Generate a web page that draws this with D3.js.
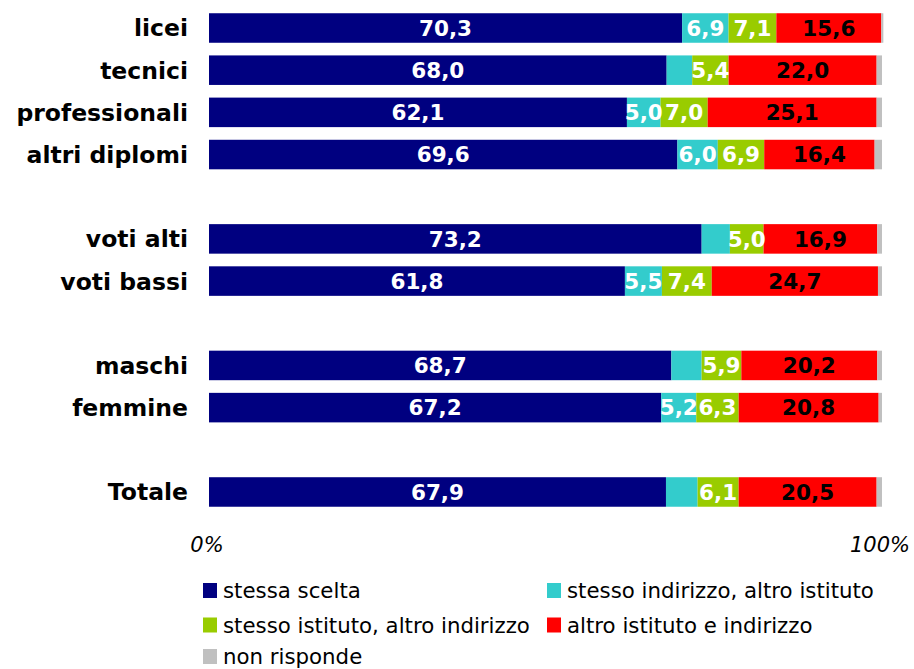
<!DOCTYPE html>
<html>
<head>
<meta charset="utf-8">
<script src="https://cdn.jsdelivr.net/npm/d3@7"></script>
<style>
  body { margin: 0; background: #fff; }
  svg { display: block; }
</style>
</head>
<body>
<svg id="chart" width="914" height="669"></svg>
<script>
// categories, with empty slots for the gaps between groups
const categories = ["licei", "tecnici", "professionali", "altri diplomi", "_g1",
                    "voti alti", "voti bassi", "_g2", "maschi", "femmine", "_g3", "Totale"];
const rows = ["licei", "tecnici", "professionali", "altri diplomi",
              "voti alti", "voti bassi", "maschi", "femmine", "Totale"];

const seriesNames = ["stessa scelta", "stesso indirizzo, altro istituto",
                     "stesso istituto, altro indirizzo", "altro istituto e indirizzo", "non risponde"];

const stessaScelta     = [70.3, 68.0, 62.1, 69.6, 73.2, 61.8, 68.7, 67.2, 67.9];
const stessoIndirizzo  = [6.9, 3.8, 5.0, 6.0, 4.2, 5.5, 4.5, 5.2, 4.7];
const stessoIstituto   = [7.1, 5.4, 7.0, 6.9, 5.0, 7.4, 5.9, 6.3, 6.1];
const altroIstituto    = [15.6, 22.0, 25.1, 16.4, 16.9, 24.7, 20.2, 20.8, 20.5];
const nonRisponde      = [0.3, 0.8, 0.8, 1.1, 0.7, 0.6, 0.7, 0.5, 0.8];

const axisTicks = [0, 100];

const colors = ["#000080", "#33cccc", "#99cc00", "#ff0000", "#c0c0c0"];
const labelColors = ["#fff", "#fff", "#fff", "#000", "#000"];

const table = rows.map((r, i) => ({
  cat: r,
  s0: stessaScelta[i], s1: stessoIndirizzo[i], s2: stessoIstituto[i],
  s3: altroIstituto[i], s4: nonRisponde[i]
}));
const keys = ["s0", "s1", "s2", "s3", "s4"];

const svg = d3.select("#chart");

const x = d3.scaleLinear().domain([0, 100]).range([209, 882]);
const step = 42.18;
const y = d3.scaleBand()
  .domain(categories)
  .range([28 - step / 2, 28 - step / 2 + step * categories.length])
  .paddingInner(0.3)
  .paddingOuter(0.15);

const stacked = d3.stack().keys(keys)(table);

const layers = svg.selectAll("g.layer").data(stacked).enter()
  .append("g").attr("class", "layer")
  .attr("fill", (d, i) => colors[i]);

layers.selectAll("rect").data(d => d).enter().append("rect")
  .attr("x", d => x(d[0]))
  .attr("y", d => y(d.data.cat))
  .attr("width", d => x(d[1]) - x(d[0]))
  .attr("height", y.bandwidth());

// value labels, only where the slice is 5 or more
stacked.forEach((layer, li) => {
  svg.append("g")
    .selectAll("text").data(layer.filter(d => d.data[keys[li]] >= 5)).enter()
    .append("text")
    .attr("x", d => x((d[0] + d[1]) / 2))
    .attr("y", d => y(d.data.cat) + y.bandwidth() / 2)
    .attr("dy", "0.36em")
    .attr("text-anchor", "middle")
    .attr("font-family", "DejaVu Sans, Verdana, sans-serif")
    .attr("font-weight", "bold")
    .attr("font-size", 21.5)
    .attr("fill", labelColors[li])
    .text(d => d.data[keys[li]].toFixed(1).replace(".", ","));
});

// category labels
svg.append("g").selectAll("text").data(rows).enter()
  .append("text")
  .attr("x", 188)
  .attr("y", d => y(d) + y.bandwidth() / 2)
  .attr("dy", "0.36em")
  .attr("text-anchor", "end")
  .attr("font-family", "DejaVu Sans, Verdana, sans-serif")
  .attr("font-weight", "bold")
  .attr("font-size", 23.5)
  .attr("fill", "#000")
  .text(d => d);

// axis ends
svg.append("g").selectAll("text").data(axisTicks).enter()
  .append("text")
  .attr("x", d => x(d) - 2)
  .attr("y", 552)
  .attr("text-anchor", "middle")
  .attr("font-family", "DejaVu Sans, Verdana, sans-serif")
  .attr("font-style", "italic")
  .attr("font-size", 21)
  .text(d => d + "%");

// legend
const legendPos = [[203, 590.5], [547, 590.5], [203, 625], [547, 625], [203, 656.5]];
const legend = svg.append("g").selectAll("g").data(seriesNames).enter()
  .append("g")
  .attr("transform", (d, i) => `translate(${legendPos[i][0]},${legendPos[i][1]})`);
legend.append("rect")
  .attr("x", 0).attr("y", -7.5).attr("width", 14).attr("height", 15)
  .attr("fill", (d, i) => colors[i]);
legend.append("text")
  .attr("x", 20)
  .attr("dy", "0.36em")
  .attr("font-family", "DejaVu Sans, Verdana, sans-serif")
  .attr("font-size", 21.3)
  .attr("fill", "#000")
  .text(d => d);
</script>
</body>
</html>
